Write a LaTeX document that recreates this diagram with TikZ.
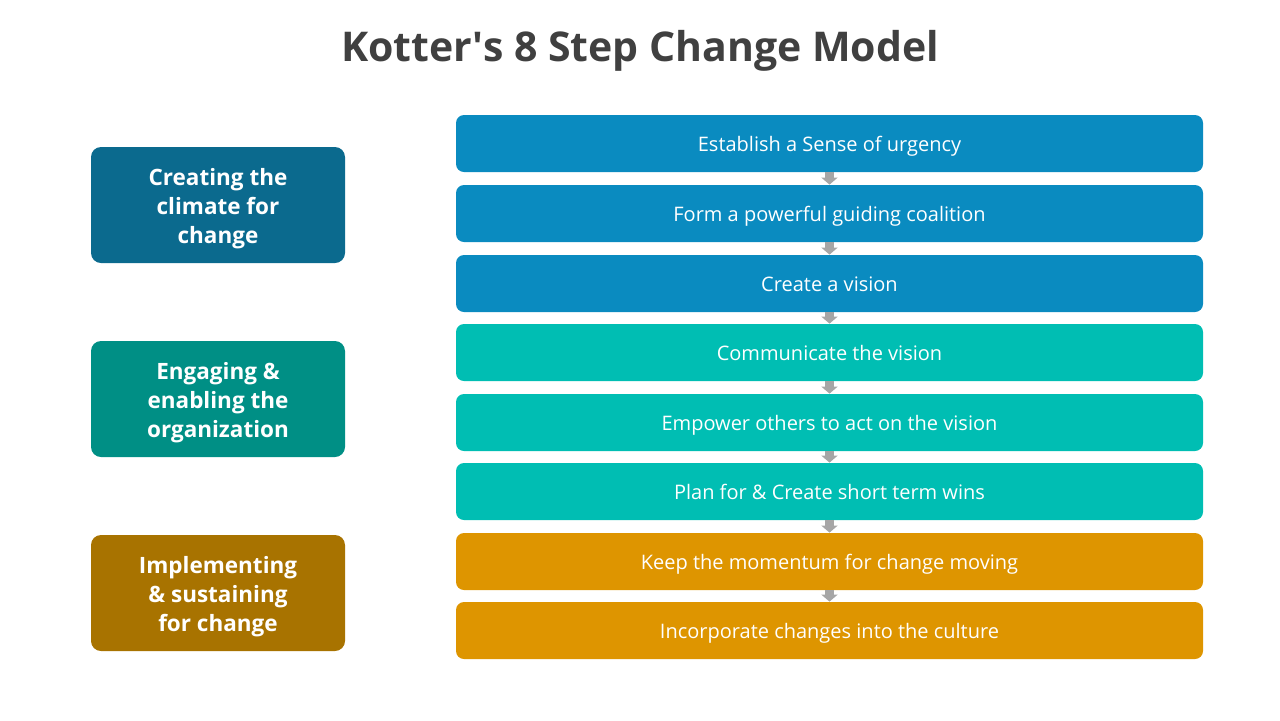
\documentclass[tikz,border=0pt]{standalone}
\usepackage{fontspec}
\setmainfont{Open Sans}
\usepackage{xcolor}
\usetikzlibrary{arrows.meta,positioning}

\definecolor{stepblue}{HTML}{0A8BC0}
\definecolor{stepteal}{HTML}{00BEB3}
\definecolor{steporange}{HTML}{DE9500}
\definecolor{phaseblue}{HTML}{0B6A8E}
\definecolor{phaseteal}{HTML}{008F85}
\definecolor{phasegold}{HTML}{A87300}
\definecolor{titlegray}{HTML}{404040}
\definecolor{arrgray}{HTML}{A6A6A6}

\begin{document}
\begin{tikzpicture}[
  x=0.5pt, y=-0.5pt,
  stepbox/.style={rounded corners=4pt, minimum width=373.5pt,
    minimum height=28.5pt, inner sep=0pt, align=center, text=white,
    text height=9.6pt, text depth=2pt,
    font=\fontsize{10}{12}\selectfont},
  phase/.style={rounded corners=5pt, minimum width=127pt,
    minimum height=58pt, inner sep=0pt, align=center, text=white,
    text height=41.5pt, text depth=2.7pt,
    font=\fontsize{11.25}{14.5}\selectfont\bfseries},
  arr/.style={draw=arrgray, line width=4.5pt,
    -{Triangle[width=8pt, length=3.5pt]}}
]
\useasboundingbox (0,0) rectangle (1280,720);

\node[font=\fontsize{20.5}{24}\selectfont\bfseries, text=titlegray] (title) at (640,51) {Kotter\textquotesingle s 8 Step Change Model};

% phases
\node[phase, fill=phaseblue] (p1) at (218,205) {Creating the\\climate for\\change};
\node[phase, fill=phaseteal] (p2) at (218,399) {Engaging \&\\enabling the\\organization};
\node[phase, fill=phasegold] (p3) at (218,593) {Implementing\\\& sustaining\\for change};

% steps
\node[stepbox, fill=stepblue]   (s1) at (829.5,143.5) {Establish a Sense of urgency};
\node[stepbox, fill=stepblue]   (s2) at (829.5,213.5) {Form a powerful guiding coalition};
\node[stepbox, fill=stepblue]   (s3) at (829.5,283.5) {Create a vision};
\node[stepbox, fill=stepteal]   (s4) at (829.5,352.5) {Communicate the vision};
\node[stepbox, fill=stepteal]   (s5) at (829.5,422.5) {Empower others to act on the vision};
\node[stepbox, fill=stepteal]   (s6) at (829.5,491.5) {Plan for \& Create short term wins};
\node[stepbox, fill=steporange] (s7) at (829.5,561.5) {Keep the momentum for change moving};
\node[stepbox, fill=steporange] (s8) at (829.5,630.5) {Incorporate changes into the culture};

\draw[arr] (s1) -- (s2);
\draw[arr] (s2) -- (s3);
\draw[arr] (s3) -- (s4);
\draw[arr] (s4) -- (s5);
\draw[arr] (s5) -- (s6);
\draw[arr] (s6) -- (s7);
\draw[arr] (s7) -- (s8);
\end{tikzpicture}
\end{document}
